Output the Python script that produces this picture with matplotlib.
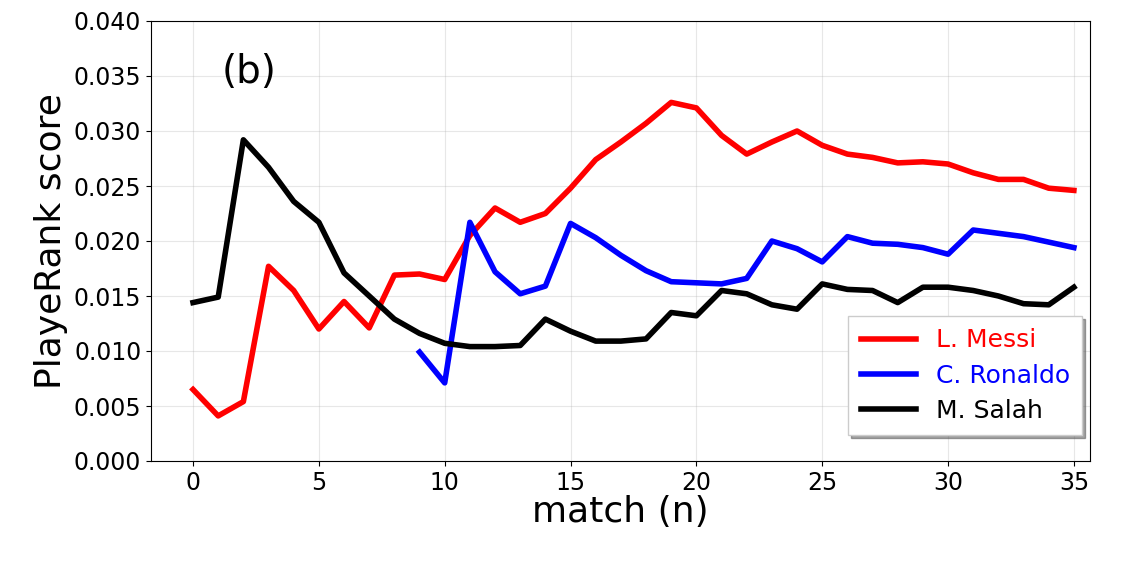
import matplotlib
matplotlib.use("Agg")
import matplotlib.pyplot as plt
import numpy as np

matches = list(range(36))
messi = [0.0065, 0.0041, 0.0054, 0.0177, 0.0155, 0.0120, 0.0145, 0.0121, 0.0169, 0.0170,
         0.0165, 0.0205, 0.0230, 0.0217, 0.0225, 0.0248, 0.0274, 0.0290, 0.0307, 0.0326,
         0.0321, 0.0296, 0.0279, 0.0290, 0.0300, 0.0287, 0.0279, 0.0276, 0.0271, 0.0272,
         0.0270, 0.0262, 0.0256, 0.0256, 0.0248, 0.0246]
ronaldo_matches = list(range(9, 36))
ronaldo = [0.0099, 0.0071, 0.0217, 0.0172, 0.0152, 0.0159, 0.0216, 0.0203, 0.0187, 0.0173,
           0.0163, 0.0162, 0.0161, 0.0166, 0.0200, 0.0193, 0.0181, 0.0204, 0.0198, 0.0197,
           0.0194, 0.0188, 0.0210, 0.0207, 0.0204, 0.0199, 0.0194]
salah = [0.0144, 0.0149, 0.0292, 0.0267, 0.0236, 0.0217, 0.0171, 0.0150, 0.0129, 0.0116,
         0.0107, 0.0104, 0.0104, 0.0105, 0.0129, 0.0118, 0.0109, 0.0109, 0.0111, 0.0135,
         0.0132, 0.0155, 0.0152, 0.0142, 0.0138, 0.0161, 0.0156, 0.0155, 0.0144, 0.0158,
         0.0158, 0.0155, 0.0150, 0.0143, 0.0142, 0.0158]

fig = plt.figure(figsize=(11.38, 5.62), dpi=100)
ax = fig.add_axes([151 / 1138, 1 - 461 / 562, (1090 - 151) / 1138, 440 / 562])

ax.plot(matches, messi, color='red', linewidth=4, label='L. Messi')
ax.plot(ronaldo_matches, ronaldo, color='blue', linewidth=4, label='C. Ronaldo')
ax.plot(matches, salah, color='black', linewidth=4, label='M. Salah')

ax.set_xlim(-1.67, 35.64)
ax.set_ylim(0, 0.04)
ax.set_xticks(range(0, 36, 5))
ax.set_yticks(np.arange(0, 0.0401, 0.005))
ax.yaxis.set_major_formatter(matplotlib.ticker.FormatStrFormatter('%.3f'))
ax.tick_params(labelsize=17)
ax.grid(alpha=0.3)
ax.set_xlabel('match (n)', fontsize=26, labelpad=0)
ax.set_ylabel('PlayeRank score', fontsize=26, labelpad=4)
ax.text(0.075, 0.885, '(b)', transform=ax.transAxes, fontsize=28, va='center')
ax.legend(loc='lower right', bbox_to_anchor=(1.005, 0.03), fontsize=18, shadow=True,
          fancybox=False, handlelength=2.2, borderpad=0.5, labelspacing=0.45)
for t, c in zip(ax.get_legend().get_texts(), ['red', 'blue', 'black']):
    t.set_color(c)

fig.savefig('out.png', dpi=100)
